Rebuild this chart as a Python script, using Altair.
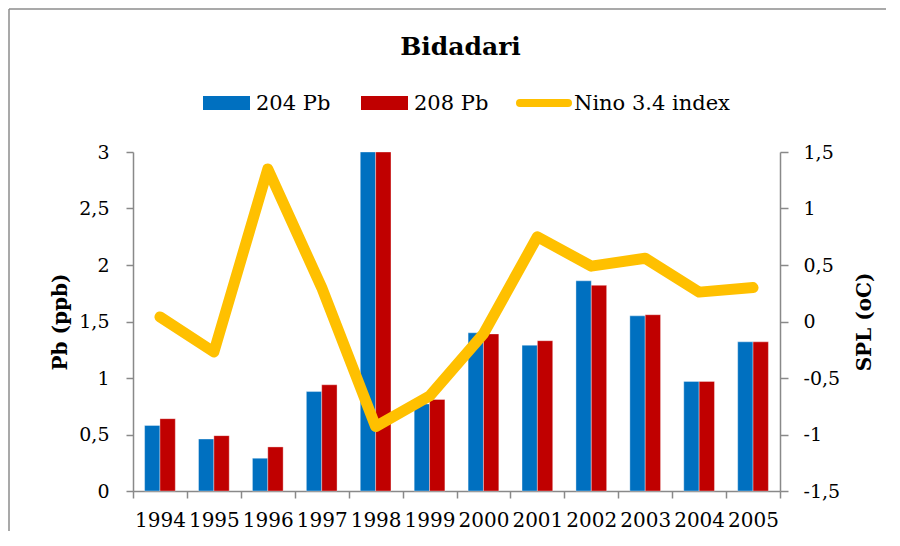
import altair as alt
import pandas as pd

years = ["1994", "1995", "1996", "1997", "1998", "1999", "2000", "2001", "2002", "2003", "2004", "2005"]
pb204 = [0.58, 0.46, 0.29, 0.88, 3.0, 0.77, 1.40, 1.29, 1.86, 1.55, 0.97, 1.32]
pb208 = [0.64, 0.49, 0.39, 0.94, 3.0, 0.81, 1.39, 1.33, 1.82, 1.56, 0.97, 1.32]
nino = [0.04, -0.27, 1.35, 0.30, -0.93, -0.66, -0.11, 0.75, 0.49, 0.56, 0.26, 0.30]
series_names = ["204 Pb", "208 Pb", "Nino 3.4 index"]
series_colors = ["#0070C0", "#C00000", "#FFC000"]
left_ticks = [0, 0.5, 1, 1.5, 2, 2.5, 3]
right_ticks = [-1.5, -1, -0.5, 0, 0.5, 1, 1.5]
title_text = "Bidadari"
left_title = "Pb (ppb)"
right_title = "SPL (oC)"

FONT = "DejaVu Serif"
AX = "#898989"
W, H = 647, 339
PAD_B = 40
PAD_R = 106

bars_df = pd.DataFrame({
    "year": years * 2,
    "series": [series_names[0]] * len(years) + [series_names[1]] * len(years),
    "value": pb204 + pb208,
})
nino_df = pd.DataFrame({"year": years, "nino": nino})

comma = "replace(toString(datum.value), '.', ',')"

bars = alt.Chart(bars_df).mark_bar(stroke="white", strokeWidth=0.6, strokeOpacity=0.6).encode(
    x=alt.X("year:O", sort=years,
            scale=alt.Scale(paddingInner=0, paddingOuter=0),
            axis=alt.Axis(title=None, labelAngle=0, tickBand="extent", tickSize=7,
                          tickColor=AX, domainColor=AX, domainWidth=1.5, tickWidth=1.5,
                          labelFont=FONT, labelFontSize=20, labelColor="black",
                          labelPadding=12, grid=False)),
    xOffset=alt.XOffset("series:N", sort=series_names[:2],
                        scale=alt.Scale(paddingInner=0, paddingOuter=0.756)),
    y=alt.Y("value:Q",
            scale=alt.Scale(domain=[0, 3], nice=False, zero=True),
            axis=alt.Axis(title=left_title, values=left_ticks, labelExpr=comma,
                          tickSize=7, tickColor=AX, domainColor=AX, domainWidth=1.5, tickWidth=1.5,
                          labelFont=FONT, labelFontSize=19, labelColor="black", labelPadding=17,
                          titleFont=FONT, titleFontSize=20, titleFontWeight="bold",
                          titleColor="black", titlePadding=8, grid=False)),
    color=alt.Color("series:N", scale=alt.Scale(domain=series_names[:2], range=series_colors[:2]),
                    legend=None),
)

line = alt.Chart(nino_df).mark_line(
    color=series_colors[2], strokeWidth=11, strokeCap="round", strokeJoin="round"
).encode(
    x=alt.X("year:O", sort=years),
    y=alt.Y("nino:Q",
            scale=alt.Scale(domain=[-1.5, 1.5], nice=False, zero=False),
            axis=alt.Axis(orient="right", title=right_title, values=right_ticks, labelExpr=comma,
                          tickSize=8, tickColor=AX, domainColor=AX, domainWidth=1.5, tickWidth=1.5,
                          labelFont=FONT, labelFontSize=19, labelColor="black", labelPadding=15,
                          titleFont=FONT, titleFontSize=20, titleFontWeight="bold",
                          titleColor="black", titleAngle=270, titleBaseline="top",
                          titlePadding=15, grid=False)),
)

title = alt.Chart(pd.DataFrame({"t": [title_text]})).mark_text(
    font=FONT, fontSize=25, fontWeight="bold", color="black", align="center", baseline="middle"
).encode(x=alt.value(W / 2 + 4), y=alt.value(-105), text="t:N")


def legend_item(idx, x0, kind):
    d = pd.DataFrame({"label": [series_names[idx]]})
    base = alt.Chart(d)
    if kind == "rect":
        sym = base.mark_rect(color=series_colors[idx]).encode(
            x=alt.value(x0), x2=alt.value(x0 + 47), y=alt.value(-56), y2=alt.value(-42))
        tx = x0 + 53
    else:
        sym = base.mark_rule(color=series_colors[idx], strokeWidth=8, strokeCap="round").encode(
            x=alt.value(x0 + 4), x2=alt.value(x0 + 52), y=alt.value(-49))
        tx = x0 + 58
    txt = base.mark_text(font=FONT, fontSize=21, color="black", align="left",
                         baseline="middle").encode(
        x=alt.value(tx), y=alt.value(-48), text="label:N")
    return [sym, txt]


legend_layers = legend_item(0, 70, "rect") + legend_item(1, 228, "rect") + legend_item(2, 383, "line")

frame = pd.DataFrame({"b": [0]})
border_left = alt.Chart(frame).mark_rule(color="#8c8c8c", strokeWidth=1.5).encode(
    x=alt.value(-124), y=alt.value(-143), y2=alt.value(H + PAD_B))
border_top = alt.Chart(frame).mark_rule(color="#8c8c8c", strokeWidth=1.5).encode(
    x=alt.value(-124), x2=alt.value(W + PAD_R), y=alt.value(-143))

chart = alt.layer(bars, line, title, *legend_layers, border_left, border_top).resolve_scale(
    y="independent", color="independent"
).properties(
    width=W, height=H,
    autosize=alt.AutoSizeParams(type="none"),
    padding={"left": 125, "top": 144, "right": PAD_R, "bottom": PAD_B},
).configure_view(strokeWidth=0)

chart.save("out.html", embed_options={"renderer": "svg", "actions": False})
